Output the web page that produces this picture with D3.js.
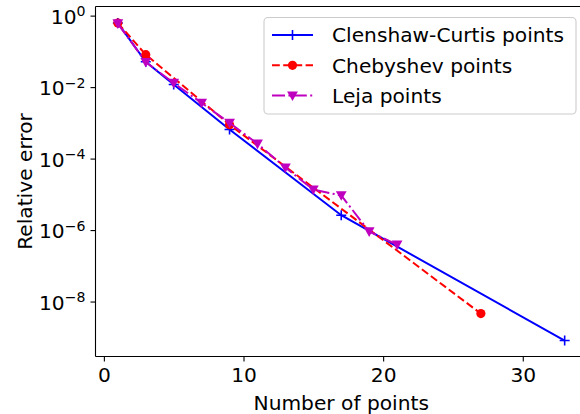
<!DOCTYPE html>
<html><head><meta charset="utf-8">
<script src="https://cdn.jsdelivr.net/npm/d3@7"></script>
<style>body{margin:0;background:#fff}svg{display:block}text{font-family:"DejaVu Sans",sans-serif;fill:#000}</style>
</head><body><svg id="c" width="580" height="414"></svg>
<script>
const ccX = [1, 3, 5, 9, 17, 33];
const ccY = [0.62, 0.051, 0.0118, 6.5e-4, 2.6e-6, 8.1e-10];
const chX = [1, 3, 9, 27];
const chY = [0.62, 0.081, 8.9e-4, 4.6e-9];
const lejaX = [1, 3, 5, 7, 9, 11, 13, 15, 17, 19, 21];
const lejaY = [0.6, 0.05, 0.013, 0.0036, 1.0e-3, 2.6e-4, 5.6e-5, 1.35e-5, 9.3e-6, 9.1e-7, 3.9e-7];
const xTicks = [0, 10, 20, 30];
const yTickExp = [0, -2, -4, -6, -8];
const legendLabels = ["Clenshaw-Curtis points", "Chebyshev points", "Leja points"];

const svg = d3.select("#c");
const L = 95.5, R = 587, T = 6.5, B = 356.5;
const x = d3.scaleLinear().domain([-0.6, 34.6]).range([L, R]);
const y = d3.scaleLog().domain([2.9e-10, 1.8]).range([B, T]);
const FS = 20.2;

// axes
const xa = svg.append("g").attr("transform", `translate(0,${B})`)
  .call(d3.axisBottom(x).tickValues(xTicks).tickSize(5).tickPadding(6).tickFormat(d3.format("d")));
const ya = svg.append("g").attr("transform", `translate(${L},0)`)
  .call(d3.axisLeft(y).tickValues(yTickExp.map(e => Math.pow(10, e))).tickSize(5).tickPadding(5).tickFormat(""));
[xa, ya].forEach(a => {
  a.select(".domain").remove();
  a.selectAll(".tick line").attr("stroke", "#000").attr("stroke-width", 1.1);
  a.selectAll("text").style("font-size", FS + "px").attr("fill", "#000");
});
ya.selectAll(".tick").each(function(d) {
  const t = d3.select(this).select("text");
  const e = Math.round(Math.log10(d));
  t.text(null).attr("x", -10).attr("dy", "0.38em");
  t.append("tspan").text("10");
  t.append("tspan").attr("dy", "-0.52em").style("font-size", (FS * 0.7) + "px").text(e === 0 ? "0" : "\u2212" + (-e));
});

// clip
svg.append("clipPath").attr("id", "clip").append("rect").attr("x", L).attr("y", T).attr("width", R - L).attr("height", B - T);
const g = svg.append("g").attr("clip-path", "url(#clip)");

const line = d3.line().x(d => x(d[0])).y(d => y(d[1]));
const series = [
  {xs: ccX, ys: ccY, color: "#0000ff", dash: null, marker: "plus"},
  {xs: chX, ys: chY, color: "#ff0000", dash: "7.8,3.4", marker: "circle"},
  {xs: lejaX, ys: lejaY, color: "#bf00bf", dash: "13,3.4,2,3.4", marker: "tri"}
];
function drawMarker(sel, type, color) {
  if (type === "plus") {
    sel.append("path").attr("d", "M-5,0H5M0,-5V5").attr("stroke", color).attr("stroke-width", 1.6).attr("fill", "none");
  } else if (type === "circle") {
    sel.append("circle").attr("r", 4.6).attr("fill", color);
  } else {
    sel.append("path").attr("d", "M-5.4,-4.2L5.4,-4.2L0,5.4Z").attr("fill", color);
  }
}
series.forEach(s => {
  const pts = s.xs.map((v, i) => [v, s.ys[i]]);
  g.append("path").datum(pts).attr("d", line).attr("fill", "none")
    .attr("stroke", s.color).attr("stroke-width", 2).attr("stroke-dasharray", s.dash);
  pts.forEach(p => {
    const m = g.append("g").attr("transform", `translate(${x(p[0])},${y(p[1])})`);
    drawMarker(m, s.marker, s.color);
  });
});

// spines
svg.append("line").attr("x1", L).attr("x2", L).attr("y1", T).attr("y2", B).attr("stroke", "#000").attr("stroke-width", 1.1);
svg.append("line").attr("x1", L).attr("x2", R).attr("y1", B).attr("y2", B).attr("stroke", "#000").attr("stroke-width", 1.1);
svg.append("line").attr("x1", L).attr("x2", R).attr("y1", T).attr("y2", T).attr("stroke", "#000").attr("stroke-width", 1.1);
svg.append("line").attr("x1", R).attr("x2", R).attr("y1", T).attr("y2", B).attr("stroke", "#000").attr("stroke-width", 1.1);

// legend
const lg = svg.append("g");
lg.append("rect").attr("x", 264).attr("y", 17.5).attr("width", 312).attr("height", 96.5).attr("rx", 4)
  .attr("fill", "#fff").attr("fill-opacity", 0.8).attr("stroke", "#ccc").attr("stroke-width", 1.1);
legendLabels.forEach((lab, i) => {
  const s = series[i];
  const yy = 35 + i * 30.3;
  lg.append("line").attr("x1", 272).attr("x2", 313).attr("y1", yy).attr("y2", yy)
    .attr("stroke", s.color).attr("stroke-width", 2).attr("stroke-dasharray", s.dash);
  drawMarker(lg.append("g").attr("transform", `translate(292.5,${yy})`), s.marker, s.color);
  lg.append("text").attr("x", 332).attr("y", yy).attr("dy", "0.36em").style("font-size", FS + "px").text(lab);
});

// axis labels
svg.append("text").attr("x", (L + R) / 2).attr("y", 410).attr("text-anchor", "middle").style("font-size", FS + "px").text("Number of points");
svg.append("text").attr("transform", `translate(32,${(T + B) / 2}) rotate(-90)`).attr("text-anchor", "middle").style("font-size", FS + "px").text("Relative error");
</script></body></html>
